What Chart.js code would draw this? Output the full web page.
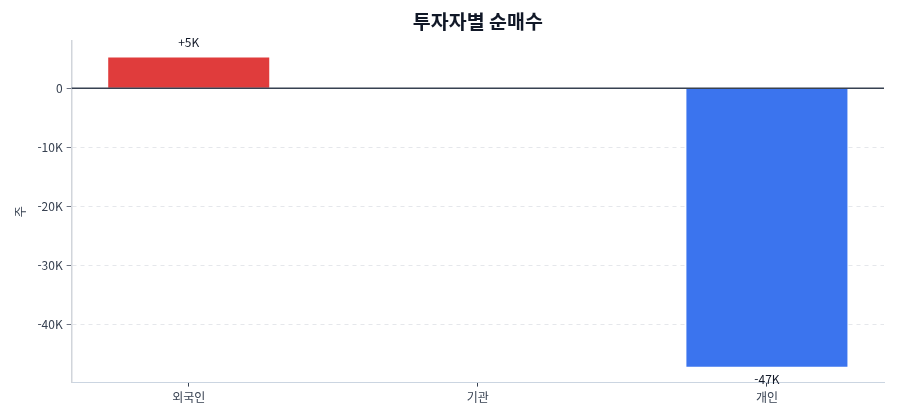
<!DOCTYPE html>
<html lang="ko">
<head>
<meta charset="utf-8">
<title>투자자별 순매수</title>
<script src="https://cdn.jsdelivr.net/npm/chart.js@4.4.1/dist/chart.umd.min.js"></script>
<style>
  html, body { margin: 0; padding: 0; background: #fff; }
  #wrap { width: 900px; height: 420px; }
</style>
</head>
<body>
<div id="wrap"><canvas id="chart"></canvas></div>
<script>
// data
const categories = ["외국인", "기관", "개인"];
const netBuy = [5200, 0, -47100];
const barColors = ["#e03c3c", "#3b74ee"];
const yTicks = [0, -10000, -20000, -30000, -40000];

const FONT = "'Noto Sans CJK KR', 'Noto Sans', sans-serif";

function fmtK(v) {
  if (v === 0) return "0";
  return Math.round(v / 1000) + "K";
}

// zero line + value labels
const extras = {
  id: "extras",
  afterDatasetsDraw(chart) {
    const { ctx, chartArea, scales } = chart;
    const y0 = scales.y.getPixelForValue(0);
    ctx.save();
    ctx.strokeStyle = "#374151";
    ctx.lineWidth = 1.5;
    ctx.beginPath();
    ctx.moveTo(chartArea.left, y0);
    ctx.lineTo(chartArea.right, y0);
    ctx.stroke();
    ctx.restore();
  },
  afterDraw(chart) {
    const { ctx } = chart;
    const meta = chart.getDatasetMeta(0);
    ctx.save();
    ctx.font = "12px " + FONT;
    ctx.fillStyle = "#111827";
    ctx.textAlign = "center";
    meta.data.forEach((bar, i) => {
      const v = netBuy[i];
      if (v === 0) return;
      if (v > 0) {
        ctx.textBaseline = "bottom";
        ctx.fillText("+" + fmtK(v), bar.x, bar.y - 9);
      } else {
        ctx.textBaseline = "top";
        ctx.fillText(fmtK(v), bar.x, bar.y + 7);
      }
    });
    ctx.restore();
  }
};

new Chart(document.getElementById("chart"), {
  type: "bar",
  data: {
    datasets: [{
      data: netBuy.map((v, i) => ({ x: i, y: v })),
      backgroundColor: netBuy.map(v => v >= 0 ? barColors[0] : barColors[1]),
      borderWidth: 0,
      categoryPercentage: 1,
      barPercentage: 0.557
    }]
  },
  options: {
    responsive: true,
    maintainAspectRatio: false,
    animation: false,
    layout: { padding: { left: 13, right: 16, top: 0, bottom: 11 } },
    plugins: {
      legend: { display: false },
      tooltip: { enabled: false },
      title: {
        display: true,
        text: "투자자별 순매수",
        fullSize: false,
        color: "#111827",
        font: { family: FONT, size: 19.5, weight: "bold" },
        padding: { top: 10, bottom: 7.6 }
      }
    },
    scales: {
      x: {
        type: "linear",
        offset: false,
        min: -0.405,
        max: 2.405,
        afterBuildTicks: s => { s.ticks = s.ticks.filter(t => Number.isInteger(t.value)); },
        ticks: {
          stepSize: 1,
          color: "#374151",
          font: { family: FONT, size: 12 },
          padding: 4,
          callback: v => categories[v] ?? ""
        },
        grid: {
          display: true,
          offset: false,
          drawOnChartArea: false,
          drawTicks: true,
          tickLength: 4,
          tickColor: "#374151"
        },
        border: { display: true, color: "#cbd5e1", width: 1 }
      },
      y: {
        min: -49800,
        max: 8000,
        afterBuildTicks: s => { s.ticks = yTicks.map(v => ({ value: v })); },
        title: {
          display: true,
          text: "주",
          color: "#374151",
          font: { family: FONT, size: 12 },
          padding: { top: 0, bottom: 6 }
        },
        ticks: {
          color: "#374151",
          font: { family: FONT, size: 12 },
          padding: 4,
          callback: v => fmtK(v)
        },
        grid: {
          color: c => (c.tick && c.tick.value === 0) ? "rgba(0,0,0,0)" : "#e5e7eb",
          tickColor: "#6b7280",
          tickLength: 5,
          drawTicks: true
        },
        border: { display: true, color: "#d1d5db", width: 1.5, dash: [4, 4] }
      }
    }
  },
  plugins: [extras]
});
</script>
</body>
</html>
